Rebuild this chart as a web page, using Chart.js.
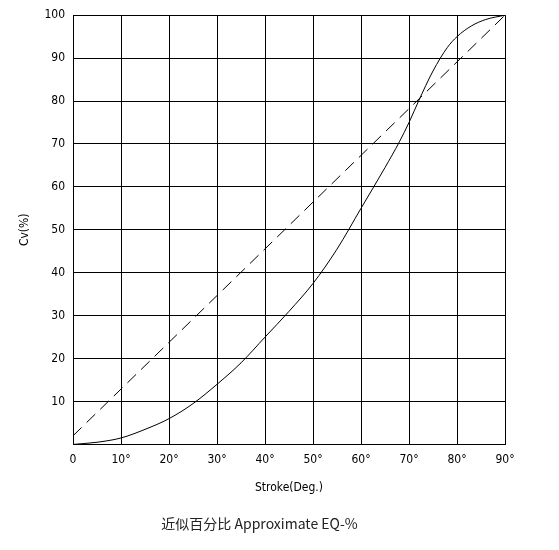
<!DOCTYPE html>
<html>
<head>
<meta charset="utf-8">
<script src="https://cdn.jsdelivr.net/npm/chart.js@4"></script>
<style>
  body { margin: 0; background: #fff; }
  #wrap { width: 559px; height: 550px; }
</style>
</head>
<body>
<div id="wrap"><canvas id="cv"></canvas></div>
<script>
// Stroke in degrees
const strokeDeg = [0, 5, 10, 15, 20, 25, 30, 35, 40, 45, 50, 55, 60, 65, 68, 70, 72, 75, 78, 80, 83, 86, 90];
// Approximate equal-percentage curve (Cv %)
const eqPercent = [0, 0.5, 1.5, 3.5, 6, 9.5, 14, 19, 25, 31, 37.5, 45.5, 55, 64.5, 70.5, 75, 80, 87, 92.5, 95, 97.5, 99, 100];
// Linear reference line
const linearX = [0, 90];
const linearY = [2, 100];
const xTicks = [0, 10, 20, 30, 40, 50, 60, 70, 80, 90];

const font = { family: "DejaVu Sans Condensed", size: 12 };

new Chart(document.getElementById("cv"), {
  type: "line",
  data: {
    datasets: [
      {
        data: strokeDeg.map((x, i) => ({ x: x, y: eqPercent[i] })),
        borderColor: "#000",
        borderWidth: 1,
        pointRadius: 0,
        cubicInterpolationMode: "monotone",
      },
      {
        data: linearX.map((x, i) => ({ x: x, y: linearY[i] })),
        borderColor: "#000",
        borderWidth: 1,
        borderDash: [12, 7],
        pointRadius: 0,
      },
    ],
  },
  options: {
    responsive: true,
    maintainAspectRatio: false,
    animation: false,
    layout: { padding: { left: 14, right: 54, top: 6, bottom: 14 } },
    plugins: {
      legend: { display: false },
      tooltip: { enabled: false },
      title: {
        display: true,
        position: "bottom",
        text: "近似百分比 Approximate EQ-%",
        color: "#222",
        font: { family: "Noto Sans CJK SC", size: 14, weight: "normal" },
        padding: { top: 16, bottom: 4 },
      },
    },
    scales: {
      x: {
        type: "linear",
        min: 0,
        max: 90,
        afterBuildTicks: (axis) => { axis.ticks = xTicks.map((v) => ({ value: v })); },
        grid: { color: "#000", lineWidth: 1, drawTicks: false },
        border: { color: "#000" },
        ticks: {
          color: "#000",
          font: font,
          padding: 8,
          callback: (v) => (v === 0 ? "0" : v + "°"),
        },
        title: { display: true, text: "Stroke(Deg.)", color: "#000", font: font, padding: { top: 6 } },
      },
      y: {
        min: 0,
        max: 100,
        grid: { color: "#000", lineWidth: 1, drawTicks: false },
        border: { color: "#000" },
        ticks: {
          stepSize: 10,
          color: "#000",
          font: font,
          padding: 8,
          callback: (v) => (v === 0 ? "" : v),
        },
        title: { display: true, text: "Cv(%)", color: "#000", font: font },
      },
    },
  },
});
</script>
</body>
</html>
